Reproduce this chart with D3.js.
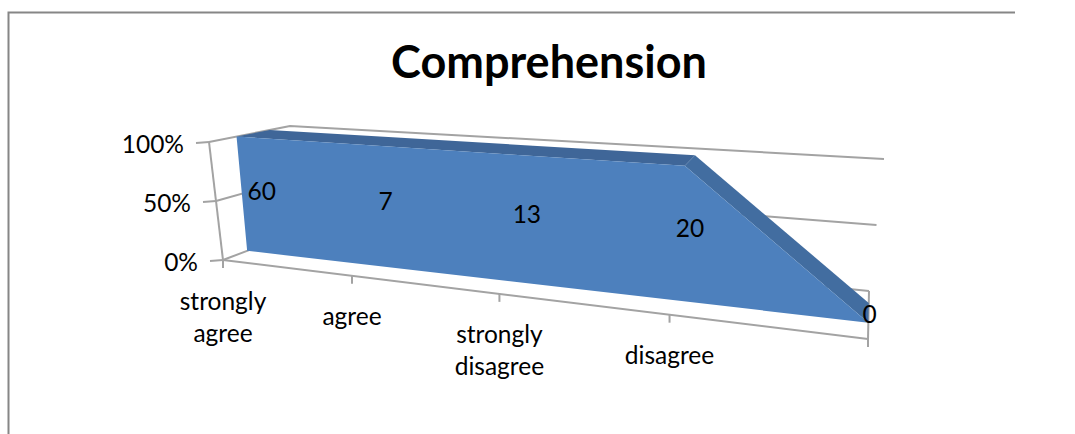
<!DOCTYPE html>
<html>
<head>
<meta charset="utf-8">
<script src="https://cdn.jsdelivr.net/npm/d3@7"></script>
<style>
  html, body { margin: 0; padding: 0; background: #fff; }
  svg { display: block; }
  text { font-family: Lato, "Open Sans", sans-serif; fill: #000; }
</style>
</head>
<body>
<svg id="chart" width="1075" height="434"></svg>
<script>
// Survey responses for the "Comprehension" item
const categories = ["strongly agree", "agree", "strongly disagree", "disagree", ""];
const responses = [60, 7, 13, 20, 0];
const categoryLabelLines = [["strongly", "agree"], ["agree"], ["strongly", "disagree"], ["disagree"], []];
const shareTicks = [0, 0.5, 1];
const chartTitle = "Comprehension";

// 100% stacked: a single series fills its whole category unless it is empty
const shares = responses.map(v => (v > 0 ? v / v : 0));

const svg = d3.select("#chart");

// Pixel corners of the tilted plot box
const box = {
  frontBottomLeft: [223, 260], frontBottomRight: [868, 339],
  backBottomLeft: [294, 233], backBottomRight: [869, 291],
  frontTopLeft: [209, 142], frontTopRight: [884, 189],
  backTopLeft: [290, 126], backTopRight: [884, 159]
};

// Category position along the box, foreshortened towards the left
const pointScale = d3.scalePoint().domain(d3.range(categories.length)).range([0, 1]);
const foreshorten = 0.75;
const along = i => {
  const t = pointScale(i);
  return foreshorten * t / (1 + (foreshorten - 1) * t);
};
const shareScale = d3.scaleLinear().domain([0, 1]).range([0, 1]);

// Map (along, height, depth) in the unit cube onto the tilted box
function project(t, h, d) {
  const mix = (a, b, k) => [a[0] + (b[0] - a[0]) * k, a[1] + (b[1] - a[1]) * k];
  const bottom = mix(
    mix(box.frontBottomLeft, box.frontBottomRight, t),
    mix(box.backBottomLeft, box.backBottomRight, t), d);
  const top = mix(
    mix(box.frontTopLeft, box.frontTopRight, t),
    mix(box.backTopLeft, box.backTopRight, t), d);
  return mix(bottom, top, h);
}

const gridColor = "#a3a3a3";
const line = d3.line();

// Outer chart border, open on the right and at the bottom
svg.append("path")
  .attr("d", "M1015,12.5H8.5V434")
  .attr("fill", "none").attr("stroke", "#868686").attr("stroke-width", 2);

svg.append("text")
  .attr("x", 549).attr("y", 78)
  .attr("text-anchor", "middle")
  .attr("font-size", 45).attr("font-weight", 700)
  .text(chartTitle);

// Back wall gridlines and left wall lines
const walls = svg.append("g").attr("fill", "none").attr("stroke", gridColor).attr("stroke-width", 2);
shareTicks.forEach(h => {
  walls.append("path").attr("d", line([project(0, shareScale(h), 0), project(0, shareScale(h), 1), project(1, shareScale(h), 1)]));
});
walls.append("path").attr("d", line([project(0, 0, 0), project(0, 1, 0)]));
walls.append("path").attr("d", line([project(1, 0, 0), project(1, 0, 1)]));
walls.append("path").attr("d", line([project(0, 0, 0), project(1, 0, 0)]));

// Tick marks on both axes
shareTicks.forEach(h => {
  const p = project(0, shareScale(h), 0);
  walls.append("path").attr("d", line([[p[0] - 13, p[1] + 1], p]));
});
categories.forEach((c, i) => {
  const p = project(along(i), 0, 0);
  walls.append("path").attr("d", line([p, [p[0], p[1] + 8]]));
});

// Extruded area: front face at one depth, top surface running back to the other
const frontDepth = 0.34, backDepth = 0.75;
const topEdge = responses.map((v, i) => ({ t: along(i), h: shareScale(shares[i]) }));

// Consecutive level segments share a single polygon so no seams appear
const runs = [];
d3.pairs(topEdge).forEach(([a, b]) => {
  const level = a.h === b.h;
  const last = runs[runs.length - 1];
  if (last && last.level === level) last.points.push(b);
  else runs.push({ level, points: [a, b] });
});

const surface = svg.append("g").attr("stroke", "none");
runs.forEach(run => {
  surface.append("path")
    .attr("fill", run.level ? "#3f6698" : "#426da0")
    .attr("d", line([
      ...run.points.map(p => project(p.t, p.h, frontDepth)),
      ...run.points.slice().reverse().map(p => project(p.t, p.h, backDepth))
    ]) + "Z");
});
surface.append("path")
  .attr("fill", "#4d80bd")
  .attr("d", line([
    ...topEdge.map(p => project(p.t, p.h, frontDepth)),
    project(1, 0, frontDepth), project(0, 0, frontDepth)
  ]) + "Z");

// Value labels sit at mid depth and half the category's height
const labels = svg.append("g").attr("font-size", 24.5).attr("text-anchor", "middle");
responses.forEach((v, i) => {
  const p = project(along(i), shares[i] / 2, 0.55);
  labels.append("text")
    .attr("x", p[0] + (shares[i] > 0 ? 4 : 1))
    .attr("y", p[1] + 2)
    .attr("dy", "0.35em").text(v);
});

// Percent axis labels
const axisFormat = d3.format(".0%");
const yLabels = svg.append("g").attr("font-size", 24.5).attr("text-anchor", "end");
shareTicks.forEach(h => {
  const p = project(0, shareScale(h), 0);
  yLabels.append("text").attr("x", p[0] - 25).attr("y", p[1] + 2).attr("dy", "0.35em").text(axisFormat(h));
});

// Category labels below the front axis
const xLabels = svg.append("g").attr("font-size", 24.5).attr("text-anchor", "middle");
categoryLabelLines.forEach((lines, i) => {
  const p = project(along(i), 0, 0);
  lines.forEach((s, k) => {
    xLabels.append("text").attr("x", p[0]).attr("y", p[1] + 41 + k * 32).attr("dy", "0.35em").text(s);
  });
});
</script>
</body>
</html>
